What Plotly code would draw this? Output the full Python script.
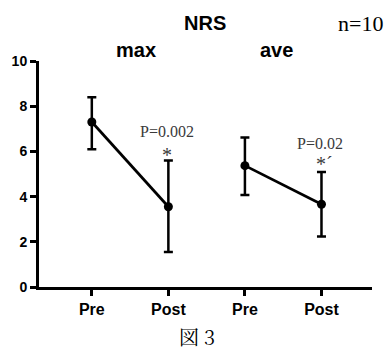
import plotly.graph_objects as go

categories = ["Pre", "Post", "Pre", "Post"]
max_mean = [7.3, 3.55]
max_err_plus = [1.1, 2.05]
max_err_minus = [1.2, 2.0]
ave_mean = [5.37, 3.66]
ave_err_plus = [1.25, 1.43]
ave_err_minus = [1.3, 1.43]
y_ticks = [0, 2, 4, 6, 8, 10]

BLACK = "#000000"
GRAY = "#3a3a3a"
sans = "Liberation Sans, Arial, sans-serif"
serif = "Liberation Serif, Times New Roman, serif"

fig = go.Figure()
for xs, m, ep, em in [([1, 2], max_mean, max_err_plus, max_err_minus),
                      ([3, 4], ave_mean, ave_err_plus, ave_err_minus)]:
    fig.add_trace(go.Scatter(
        x=xs, y=m, mode="lines+markers",
        line=dict(color=BLACK, width=2.7),
        marker=dict(color=BLACK, size=9),
        error_y=dict(type="data", symmetric=False, array=ep, arrayminus=em,
                     color=BLACK, thickness=2.5, width=4.5),
        showlegend=False, hoverinfo="skip"))

ann = [
    dict(text="<b>NRS</b>", x=0.4985, y=1.168, xref="paper", yref="paper", font=dict(family=sans, size=20, color=BLACK)),
    dict(text="n=10", x=0.964, y=1.168, xref="paper", yref="paper", font=dict(family=serif, size=22, color=BLACK)),
    dict(text="<b>max</b>", x=0.291, y=1.049, xref="paper", yref="paper", font=dict(family=sans, size=20, color=BLACK)),
    dict(text="<b>ave</b>", x=0.712, y=1.049, xref="paper", yref="paper", font=dict(family=sans, size=20, color=BLACK)),
    dict(text="P=0.002", x=1.98, y=6.86, xref="x", yref="y", font=dict(family=serif, size=16, color=GRAY)),
    dict(text="*", x=1.98, y=5.85, xref="x", yref="y", font=dict(family=serif, size=20, color=GRAY)),
    dict(text="P=0.02", x=3.98, y=6.37, xref="x", yref="y", font=dict(family=serif, size=16, color=GRAY)),
    dict(text="*´", x=4.04, y=5.45, xref="x", yref="y", font=dict(family=serif, size=20, color=GRAY)),
    dict(text="図 3", x=0.475, y=-0.221, xref="paper", yref="paper",
         font=dict(family="Noto Serif CJK JP, Liberation Serif, Noto Sans CJK JP, serif", size=20, color=BLACK)),
]
for a in ann:
    a.update(showarrow=False, xanchor="center", yanchor="middle")

fig.update_layout(
    width=387, height=352,
    margin=dict(l=35, r=15, t=61, b=65),
    paper_bgcolor="white", plot_bgcolor="white",
    annotations=ann,
    xaxis=dict(range=[0.31, 4.66], tickvals=[1, 2, 3, 4], ticktext=[f"<b>{c}</b>" for c in categories],
               showline=True, linecolor=BLACK, linewidth=3, ticks="outside", ticklen=6,
               tickwidth=3, tickcolor=BLACK, showgrid=False, zeroline=False,
               tickfont=dict(family=sans, size=16, color=BLACK)),
    yaxis=dict(range=[0, 10], tickvals=y_ticks, ticktext=[f"<b>{v}</b>" for v in y_ticks],
               showline=True, linecolor=BLACK, linewidth=3, ticks="outside", ticklen=6,
               tickwidth=3, tickcolor=BLACK, showgrid=False, zeroline=False,
               tickfont=dict(family=sans, size=14, color=BLACK)),
)
fig.write_html("out.html", config={"displayModeBar": False},
               post_script="document.body.style.margin='0';document.body.style.overflow='hidden';")
